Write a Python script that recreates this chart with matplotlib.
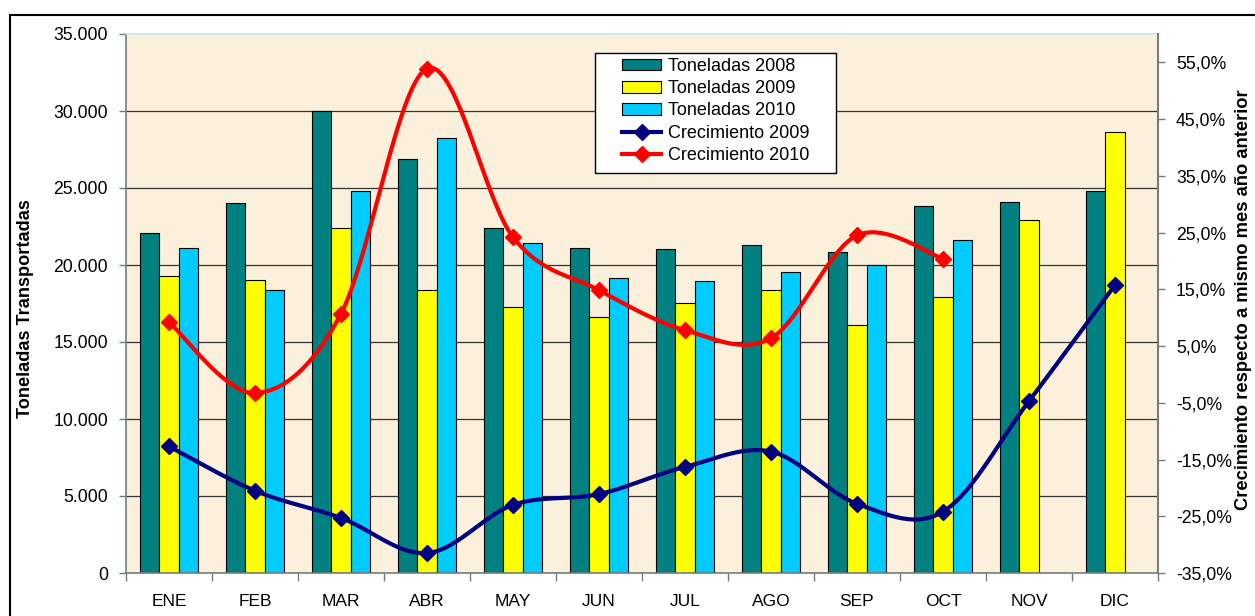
import numpy as np
import matplotlib
matplotlib.use("Agg")
import matplotlib.pyplot as plt
from matplotlib.patches import Rectangle, Patch
from matplotlib.lines import Line2D
from matplotlib.ticker import FuncFormatter, FixedLocator

plt.rcParams['font.family'] = ['Liberation Sans', 'DejaVu Sans']

# ---------------- data ----------------
meses = ["ENE", "FEB", "MAR", "ABR", "MAY", "JUN", "JUL", "AGO", "SEP", "OCT", "NOV", "DIC"]
ton_2008 = [22100, 24000, 30000, 26900, 22400, 21100, 21050, 21300, 20850, 23800, 24100, 24800]
ton_2009 = [19300, 19050, 22400, 18400, 17250, 16650, 17550, 18350, 16100, 17950, 22900, 28650]
ton_2010 = [21100, 18350, 24800, 28250, 21400, 19150, 18950, 19550, 20000, 21650]
crec_2009 = [-12.7, -20.5, -25.3, -31.5, -23.0, -21.1, -16.3, -13.6, -22.8, -24.2, -4.7, 15.75]
crec_2010 = [9.2, -3.3, 10.7, 53.9, 24.2, 14.85, 7.8, 6.4, 24.5, 20.4]
left_ticks = [0, 5000, 10000, 15000, 20000, 25000, 30000, 35000]
right_ticks = [-35, -25, -15, -5, 5, 15, 25, 35, 45, 55]

series_labels = ["Toneladas 2008", "Toneladas 2009", "Toneladas 2010",
                 "Crecimiento 2009", "Crecimiento 2010"]

# ---------------- style ----------------
C08, C09, C10 = "#008080", "#FFFF00", "#00CCFF"
CN, CR = "#000080", "#FF0000"
BG = "#FAF0DC"
AXC = "#6F7F7F"

W, H = 1255, 616
fig = plt.figure(figsize=(W / 100, H / 100), dpi=100)
fig.patch.set_facecolor("white")

L, R, T, B = 126, 1158, 34, 573
ax1 = fig.add_axes([L / W, (H - B) / H, (R - L) / W, (B - T) / H])
ax2 = ax1.twinx()

ax1.set_facecolor(BG)
ax2.set_facecolor("none")


def smooth(vals, n=40):
    y = np.asarray(vals, float)
    x = np.arange(len(y), dtype=float)
    P = np.column_stack([x, y])
    Pe = np.vstack([P[0], P, P[-1]])
    t = np.linspace(0, 1, n)[:, None]
    out = []
    for i in range(len(P) - 1):
        p0, p3 = P[i], P[i + 1]
        c1 = p0 + (Pe[i + 2] - Pe[i]) / 6.0
        c2 = p3 - (Pe[i + 3] - Pe[i + 1]) / 6.0
        seg = (1 - t) ** 3 * p0 + 3 * (1 - t) ** 2 * t * c1 + 3 * (1 - t) * t ** 2 * c2 + t ** 3 * p3
        out.append(seg if i == 0 else seg[1:])
    return np.vstack(out)


bw = 0.228
x = np.arange(len(meses))
ax1.bar(x[:len(ton_2008)] - bw, ton_2008, bw, color=C08, edgecolor="black", linewidth=0.8, zorder=2)
ax1.bar(x[:len(ton_2009)], ton_2009, bw, color=C09, edgecolor="black", linewidth=0.8, zorder=2)
ax1.bar(x[:len(ton_2010)] + bw, ton_2010, bw, color=C10, edgecolor="black", linewidth=0.8, zorder=2)

for v in left_ticks[1:-1]:
    ax1.axhline(v, color="#333333", lw=0.9, zorder=1)

for vals, col in ((crec_2009, CN), (crec_2010, CR)):
    s = smooth(vals)
    ax2.plot(s[:, 0], s[:, 1], color=col, lw=3, solid_capstyle="round", zorder=3)
    ax2.plot(np.arange(len(vals)), vals, ls="none", marker="D", ms=8.5,
             color=col, zorder=4)

ax1.set_xlim(-0.5, len(meses) - 0.5)
ax1.set_ylim(0, 35000)
ax2.set_ylim(-35, 60)

ax1.yaxis.set_major_locator(FixedLocator(left_ticks))
ax1.yaxis.set_major_formatter(FuncFormatter(lambda v, p: f"{int(round(v)):,}".replace(",", ".")))
ax2.yaxis.set_major_locator(FixedLocator(right_ticks))
ax2.yaxis.set_major_formatter(FuncFormatter(lambda v, p: f"{v:.1f}%".replace(".", ",")))

ax1.xaxis.set_major_locator(FixedLocator(np.arange(-0.5, len(meses), 1.0)))
ax1.xaxis.set_minor_locator(FixedLocator(x))
ax1.set_xticklabels([], minor=False)
ax1.set_xticklabels(meses, minor=True)
ax1.tick_params(axis="x", which="major", direction="out", length=6, color=AXC, width=1)
ax1.tick_params(axis="x", which="minor", length=0, labelsize=12.5, pad=15)
ax1.tick_params(axis="y", direction="out", length=5, color=AXC, width=1, labelsize=12.7, pad=8)
ax2.tick_params(axis="y", direction="out", length=5, color=AXC, width=1, labelsize=12.7, pad=8)

for sp in ("left", "bottom"):
    ax1.spines[sp].set_color(AXC)
    ax1.spines[sp].set_linewidth(1.2)
ax1.spines["right"].set_visible(False)
ax1.spines["top"].set_color("#BFEAEA")
ax1.spines["top"].set_linewidth(1.2)
for sp in ("left", "bottom", "top"):
    ax2.spines[sp].set_visible(False)
ax2.spines["right"].set_color(AXC)
ax2.spines["right"].set_linewidth(1.5)

# axis titles
fig.text(25.5 / W, 1 - 309 / H, "Toneladas Transportadas", rotation=90,
         ha="center", va="center", fontsize=13.1, fontweight="bold")
fig.text(1244 / W, 1 - 300 / H, "Crecimiento respecto a mismo mes año anterior", rotation=90,
         ha="center", va="center", fontsize=13.2, fontweight="bold")

# outer chart border
fig.add_artist(Rectangle((10 / W, -0.1), 1.2, 1 - 15 / H + 0.1, transform=fig.transFigure,
                         fill=False, ec="black", lw=1.5))

# legend
box = Rectangle((595 / W, 1 - 173.3 / H), 241 / W, 120 / H, transform=fig.transFigure,
                fc="white", ec="black", lw=1, zorder=10, clip_on=False)
ax2.add_artist(box)
handles = [Patch(fc=C08, ec="black", lw=0.8, label=series_labels[0]),
           Patch(fc=C09, ec="black", lw=0.8, label=series_labels[1]),
           Patch(fc=C10, ec="black", lw=0.8, label=series_labels[2]),
           Line2D([], [], color=CN, lw=3, marker="D", ms=8.5, label=series_labels[3]),
           Line2D([], [], color=CR, lw=3, marker="D", ms=8.5, label=series_labels[4])]
leg = ax2.legend(handles=handles, loc="upper left", bbox_to_anchor=(621.7 / W, 1 - 58 / H),
                 bbox_transform=fig.transFigure, frameon=False, fontsize=13,
                 handlelength=2.2, handleheight=0.6, handletextpad=0.37,
                 labelspacing=0.29, borderpad=0, borderaxespad=0)
leg.set_zorder(11)

fig.savefig("out.png", dpi=100)
